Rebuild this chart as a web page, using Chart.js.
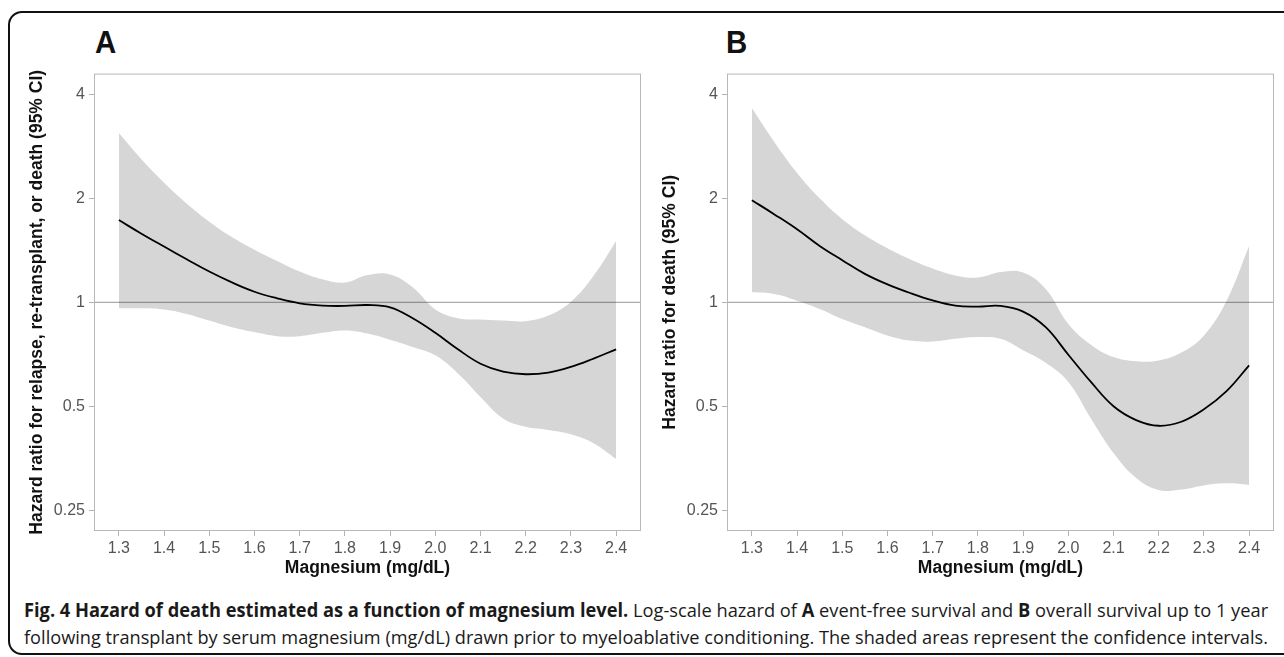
<!DOCTYPE html>
<html>
<head>
<meta charset="utf-8">
<script src="https://cdn.jsdelivr.net/npm/chart.js@4.4.1/dist/chart.umd.min.js"></script>
<style>
  html, body { margin: 0; padding: 0; background: #fff; }
  body { width: 1284px; height: 657px; position: relative; overflow: hidden; }
  .moldura {
    position: absolute; left: 8px; top: 11px; width: 1300px; height: 644px;
    border: 2px solid #111; border-radius: 14px; box-sizing: border-box;
  }
  canvas { position: absolute; }
  .painel {
    position: absolute; font-family: "Liberation Sans", Arial, sans-serif;
    font-weight: bold; font-size: 32px; line-height: 32px; color: #111;
    transform: scaleX(0.92); transform-origin: 0 50%;
  }
  .legenda {
    position: absolute; left: 24px; font-family: "Open Sans", sans-serif;
    font-size: 19px; line-height: 27px; color: #1a1a1a; white-space: nowrap;
    transform-origin: 0 50%;
  }
</style>
</head>
<body>
<div class="moldura"></div>
<div class="painel" style="left:95px; top:26px;">A</div>
<div class="painel" style="left:726px; top:26px;">B</div>
<canvas id="grafico-a" width="636" height="530" style="left:10px; top:60px;"></canvas>
<canvas id="grafico-b" width="641" height="530" style="left:643px; top:60px;"></canvas>
<div class="legenda" style="top:597px;"><b>Fig. 4 Hazard of death estimated as a function of magnesium level.</b> Log-scale hazard of <b>A</b> event-free survival and <b>B</b> overall survival up to 1 year</div>
<div class="legenda" style="top:624px;">following transplant by serum magnesium (mg/dL) drawn prior to myeloablative conditioning. The shaded areas represent the confidence intervals.</div>

<script>
// =======================
// 1. Dados
// =======================
const magnesio = [1.3, 1.35, 1.4, 1.45, 1.5, 1.55, 1.6, 1.65, 1.7, 1.75, 1.8, 1.85,
  1.9, 1.95, 2.0, 2.05, 2.1, 2.15, 2.2, 2.25, 2.3, 2.35, 2.4];

const ticksX = [1.3, 1.4, 1.5, 1.6, 1.7, 1.8, 1.9, 2.0, 2.1, 2.2, 2.3, 2.4];
const ticksY = [0.25, 0.5, 1, 2, 4];

// A - sobrevida livre de eventos
const hrA = [1.73, 1.58, 1.45, 1.333, 1.228, 1.142, 1.073, 1.027, 0.993, 0.978, 0.976, 0.982,
  0.967, 0.899, 0.816, 0.731, 0.664, 0.63, 0.619, 0.626, 0.65, 0.687, 0.731];
const superiorA = [3.09, 2.594, 2.219, 1.932, 1.711, 1.545, 1.419, 1.317, 1.228, 1.166, 1.141, 1.199,
  1.204, 1.105, 0.953, 0.899, 0.891, 0.885, 0.882, 0.915, 1.004, 1.193, 1.505];
const inferiorA = [0.961, 0.961, 0.953, 0.925, 0.885, 0.847, 0.82, 0.798, 0.798, 0.816, 0.829, 0.812,
  0.779, 0.742, 0.702, 0.622, 0.532, 0.461, 0.436, 0.427, 0.415, 0.391, 0.352];

// B - sobrevida global
const hrB = [1.976, 1.797, 1.627, 1.456, 1.324, 1.209, 1.127, 1.064, 1.013, 0.978, 0.972, 0.976,
  0.94, 0.847, 0.705, 0.588, 0.5, 0.456, 0.439, 0.451, 0.49, 0.553, 0.657];
const superiorB = [3.65, 2.908, 2.37, 2.0, 1.741, 1.564, 1.434, 1.333, 1.253, 1.196, 1.179, 1.223,
  1.22, 1.093, 0.866, 0.754, 0.694, 0.675, 0.678, 0.715, 0.802, 1.011, 1.456];
const inferiorB = [1.069, 1.057, 1.011, 0.957, 0.895, 0.847, 0.802, 0.775, 0.77, 0.784, 0.793, 0.784,
  0.726, 0.668, 0.588, 0.461, 0.366, 0.31, 0.286, 0.287, 0.295, 0.299, 0.296];

const X_MIN = 1.245;
const X_MAX = 2.455;
const Y_MIN = Math.pow(2, -2.2);
const Y_MAX = Math.pow(2, 2.2);

const FONTE = "'Liberation Sans', Arial, Helvetica, sans-serif";
Chart.defaults.font.family = FONTE;

// =======================
// 2. Caixa cinza do painel
// =======================
const caixaPlugin = {
  id: "caixa",
  afterDraw(chart) {
    const { ctx, chartArea: a } = chart;
    ctx.save();
    ctx.strokeStyle = "#b8b8b8";
    ctx.lineWidth = 1;
    ctx.strokeRect(a.left + 0.5, a.top + 0.5, a.right - a.left - 1, a.bottom - a.top - 1);
    ctx.restore();
  },
};

// =======================
// 3. Criação dos gráficos
// =======================
function criarGrafico(id, hr, inferior, superior, tituloY, padDireita) {
  const pontos = (arr) => magnesio.map((m, i) => ({ x: m, y: arr[i] }));
  const corTick = "#555";

  return new Chart(document.getElementById(id), {
    type: "line",
    data: {
      datasets: [
        {
          label: "HR",
          data: pontos(hr),
          borderColor: "#000",
          borderWidth: 1.8,
          pointRadius: 0,
          tension: 0.4,
          fill: false,
          order: 0,
        },
        {
          label: "Referência",
          data: [{ x: X_MIN, y: 1 }, { x: X_MAX, y: 1 }],
          borderColor: "rgba(0, 0, 0, 0.33)",
          borderWidth: 1.2,
          pointRadius: 0,
          fill: false,
          order: 1,
        },
        {
          label: "IC superior",
          data: pontos(superior),
          borderColor: "rgba(0, 0, 0, 0)",
          borderWidth: 0,
          backgroundColor: "#d6d6d6",
          pointRadius: 0,
          tension: 0.4,
          fill: 3,
          order: 2,
        },
        {
          label: "IC inferior",
          data: pontos(inferior),
          borderColor: "rgba(0, 0, 0, 0)",
          borderWidth: 0,
          pointRadius: 0,
          tension: 0.4,
          fill: false,
          order: 3,
        },
      ],
    },
    options: {
      responsive: false,
      animation: false,
      events: [],
      layout: { padding: { left: 0, right: padDireita, top: 11, bottom: 0 } },
      plugins: { legend: { display: false }, tooltip: { enabled: false } },
      scales: {
        x: {
          type: "linear",
          min: X_MIN,
          max: X_MAX,
          afterBuildTicks: (s) => { s.ticks = ticksX.map((v) => ({ value: v })); },
          afterFit: (s) => { s.height = 59; },
          ticks: {
            callback: (v) => Number(v).toFixed(1),
            color: corTick,
            font: { size: 16 },
            padding: 3,
            maxRotation: 0,
            autoSkip: false,
          },
          grid: { drawOnChartArea: false, tickLength: 5, color: "#b3b3b3" },
          border: { display: false },
          title: {
            display: true,
            text: "Magnesium (mg/dL)",
            color: "#111",
            font: { size: 17.5, weight: "bold" },
            padding: { top: 0, bottom: 11.5 },
          },
        },
        y: {
          type: "logarithmic",
          min: Y_MIN,
          max: Y_MAX,
          afterBuildTicks: (s) => { s.ticks = ticksY.map((v) => ({ value: v })); },
          afterFit: (s) => { s.width = 84; },
          ticks: {
            callback: (v) => String(v),
            color: corTick,
            font: { size: 16 },
            padding: 4,
            autoSkip: false,
          },
          grid: { drawOnChartArea: false, tickLength: 5, color: "#b3b3b3" },
          border: { display: false },
          title: {
            display: true,
            text: tituloY,
            color: "#111",
            font: { size: 17.5, weight: "bold" },
            padding: { top: 16.5, bottom: 0 },
          },
        },
      },
    },
    plugins: [caixaPlugin],
  });
}

criarGrafico("grafico-a", hrA, inferiorA, superiorA,
  "Hazard ratio for relapse, re-transplant, or death (95% CI)", 5);
criarGrafico("grafico-b", hrB, inferiorB, superiorB,
  "Hazard ratio for death (95% CI)", 10);

// =======================
// 4. Legenda justificada na largura da moldura
// =======================
document.querySelectorAll(".legenda").forEach((el) => {
  const largura = el.offsetWidth;
  el.style.transform = "scaleX(" + (1244 / largura) + ")";
});
</script>
</body>
</html>
